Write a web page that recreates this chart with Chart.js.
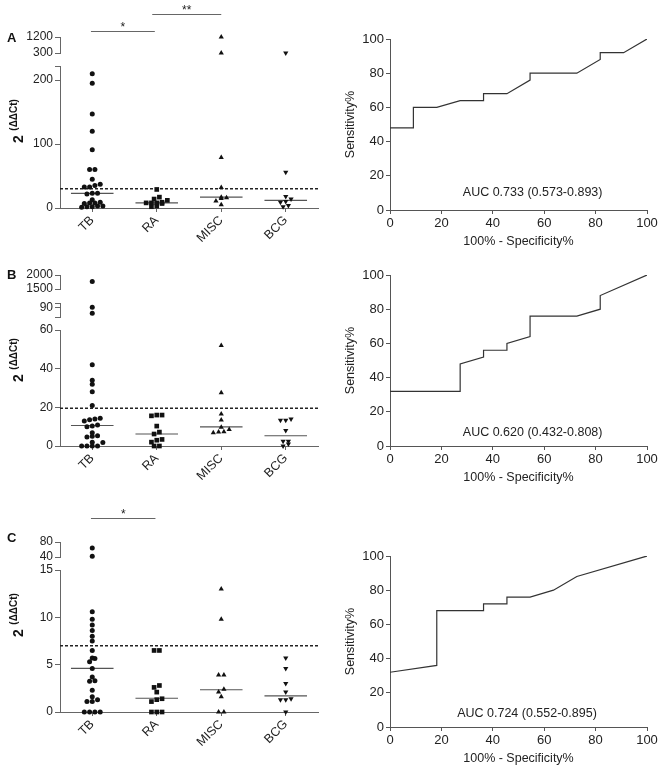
<!DOCTYPE html>
<html lang="en">
<head>
<meta charset="utf-8">
<title>2(ΔΔCt) y curvas ROC</title>
<script src="https://cdn.jsdelivr.net/npm/chart.js@4.4.1/dist/chart.umd.min.js"></script>
<style>
  body { margin: 0; background: #fff; }
  #lienzo { position: relative; width: 661px; height: 767px; overflow: hidden; font-family: "Liberation Sans", Arial, sans-serif; color: #111; }
  .panel { position: absolute; }
  .letra { position: absolute; font-weight: bold; font-size: 13px; }
  .titulo-y { position: absolute; width: 80px; height: 16px; line-height: 16px; text-align: center; transform: rotate(-90deg); white-space: nowrap; }
  .titulo-y b { font-size: 14px; }
  .titulo-y sup { font-size: 10px; font-weight: bold; }
</style>
</head>
<body>
<div id="lienzo">
  <div class="panel" style="left:0;top:0;width:335px;height:250px"><canvas id="puntosA"></canvas></div>
  <div class="panel" style="left:0;top:250px;width:335px;height:236px"><canvas id="puntosB"></canvas></div>
  <div class="panel" style="left:0;top:486px;width:335px;height:281px"><canvas id="puntosC"></canvas></div>
  <div class="panel" style="left:340px;top:0;width:321px;height:250px"><canvas id="rocA"></canvas></div>
  <div class="panel" style="left:340px;top:250px;width:321px;height:236px"><canvas id="rocB"></canvas></div>
  <div class="panel" style="left:340px;top:486px;width:321px;height:281px"><canvas id="rocC"></canvas></div>
  <div class="letra" style="left:7px;top:30px">A</div>
  <div class="letra" style="left:7px;top:267px">B</div>
  <div class="letra" style="left:7px;top:530px">C</div>
  <div class="titulo-y" style="left:-26px;top:113px"><b>2</b> <sup>(ΔΔCt)</sup></div>
  <div class="titulo-y" style="left:-26px;top:352px"><b>2</b> <sup>(ΔΔCt)</sup></div>
  <div class="titulo-y" style="left:-26px;top:607px"><b>2</b> <sup>(ΔΔCt)</sup></div>
</div>
<script>
// ****************************** DATOS *******************************
const categorias = ["TB", "RA", "MISC", "BCG"];

// Panel A
const tbA = [210, 195, 147, 120, 91, 60, 60, 45, 37, 35, 33, 33, 23, 23, 22, 13, 9, 8, 8, 7, 3, 3, 2, 2, 1];
const raA = [29, 17, 14, 12, 9, 8, 8, 8, 7, 3, 2];
const miscA = [1200, 300, 79, 32, 17, 16, 15, 11, 5];
const bcgA = [300, 56, 18, 14, 10, 9, 4, 2];
const medianasA = [23, 8, 17, 12];
const corteA = 30;
const ticksA0 = [0, 100, 200];
const ticksA1 = [300, 1200];

// Panel B
const tbB = [1767, 91, 78, 42, 34, 32, 28, 21, 14.3, 14, 13.6, 12.9, 10.8, 10.3, 9.9, 6.8, 5.3, 5, 4.7, 2, 1.8, 0, 0, 0, 0];
const raB = [16, 16, 15.6, 10.3, 7.2, 6.2, 3.4, 3, 2, 0, 0];
const miscB = [52, 27.5, 16.5, 13.4, 9.7, 8.5, 7.4, 7.3, 6.9];
const bcgB = [14, 13.3, 13.3, 8, 2.5, 2.5, 1, 0];
const medianasB = [10.6, 6.2, 9.9, 5.3];
const corteB = 19.5;
const ticksB0 = [0, 20, 40, 60];
const ticksB1 = [90];
const ticksB2 = [1500, 2000];

// Panel C
const tbC = [64, 42, 10.6, 9.8, 9.2, 8.6, 8, 7.5, 6.5, 5.7, 5.65, 5.3, 4.6, 3.7, 3.3, 3.25, 2.3, 1.6, 1.3, 1.1, 1.1, 0, 0, 0, 0];
const raC = [6.5, 6.5, 2.8, 2.6, 2.1, 1.4, 1.3, 1.1, 0, 0, 0];
const miscC = [13, 9.8, 3.9, 3.9, 2.4, 2.1, 1.6, 0, 0];
const bcgC = [5.7, 4.6, 3, 2.1, 1.4, 1.3, 1.3, 0];
const medianasC = [4.6, 1.45, 2.35, 1.7];
const corteC = 7;
const ticksC0 = [0, 5, 10, 15];
const ticksC1 = [40, 80];

// Curvas ROC (100% - especificidad, sensibilidad)
const rocTicks = [0, 20, 40, 60, 80, 100];
const rocAx = [0, 9.1, 9.1, 18.2, 27.3, 36.4, 36.4, 45.5, 54.5, 54.5, 72.7, 81.8, 81.8, 90.9, 100];
const rocAy = [48, 48, 60, 60, 64, 64, 68, 68, 76, 80, 80, 88, 92, 92, 100];
const rocBx = [0, 27.3, 27.3, 36.4, 36.4, 45.5, 45.5, 54.5, 54.5, 72.7, 81.8, 81.8, 100];
const rocBy = [32, 32, 48, 52, 56, 56, 60, 64, 76, 76, 80, 88, 100];
const rocCx = [0, 18.2, 18.2, 36.4, 36.4, 45.5, 45.5, 54.5, 63.6, 72.7, 100];
const rocCy = [32, 36, 68, 68, 72, 72, 76, 76, 80, 88, 100];

// ****************************** CONFIGURACIÓN ***********************
Chart.defaults.font.family = "'Liberation Sans', Arial, sans-serif";
Chart.defaults.color = "#222";

// Tramos del eje Y cortado (de abajo a arriba), alto en px
const tramosA = [
  { min: 0, max: 222, labels: ticksA0, px: 142 },
  { gap: 13 },
  { min: 300, max: 1200, labels: ticksA1, px: 16 },
];
const tramosB = [
  { min: 0, max: 60, labels: ticksB0, px: 116 },
  { gap: 13 },
  { min: 70, max: 100, labels: ticksB1, px: 14 },
  { gap: 14 },
  { min: 1500, max: 2000, labels: ticksB2, px: 14 },
];
const tramosC = [
  { min: 0, max: 15, labels: ticksC0, px: 142 },
  { gap: 13 },
  { min: 40, max: 80, labels: ticksC1, px: 15 },
];

const estilos = [
  { pointStyle: "circle", pointRadius: 2.5, rot: 0 },
  { pointStyle: "rect", pointRadius: 3.3, rot: 0 },
  { pointStyle: "triangle", pointRadius: 3, rot: 0 },
  { pointStyle: "triangle", pointRadius: 3, rot: 180 },
];

/**
 * Altura aproximada en px (desde abajo) de un valor en el eje cortado
 */
function alturaPx(tramos, v) {
  let base = 0;
  for (const t of tramos) {
    if (t.gap) { base += t.gap; continue; }
    if (v <= t.max) return base + (Math.max(v, t.min) - t.min) / (t.max - t.min) * t.px;
    base += t.px;
  }
  return base;
}

/**
 * Reparte horizontalmente los puntos que se solapan (enjambre sencillo)
 */
function enjambre(valores, gi, tramos, pxPorCat) {
  const pts = valores.map((v) => ({ v, py: alturaPx(tramos, v) })).sort((a, b) => a.py - b.py);
  const out = [];
  let i = 0;
  while (i < pts.length) {
    let j = i;
    while (j + 1 < pts.length && pts[j + 1].py - pts[i].py < 3.5) j++;
    const n = j - i + 1;
    for (let k = 0; k < n; k++) {
      out.push({ x: gi + ((k - (n - 1) / 2) * 5.3) / pxPorCat, y: pts[i + k].v });
    }
    i = j + 1;
  }
  return out;
}

function pluginBarras(barras) {
  return {
    id: "barras",
    afterDraw(chart) {
      const ctx = chart.ctx;
      const xs = chart.scales.x;
      const top = chart.chartArea.top;
      ctx.save();
      ctx.strokeStyle = "#666";
      ctx.lineWidth = 1;
      ctx.fillStyle = "#222";
      ctx.font = "12px 'Liberation Sans', Arial, sans-serif";
      ctx.textAlign = "center";
      ctx.textBaseline = "alphabetic";
      barras.forEach((b) => {
        const x1 = xs.getPixelForValue(b.desde);
        const x2 = xs.getPixelForValue(b.hasta);
        const y = Math.round(top - b.dy) + 0.5;
        ctx.beginPath();
        ctx.moveTo(x1, y);
        ctx.lineTo(x2, y);
        ctx.stroke();
        ctx.fillText(b.texto, (x1 + x2) / 2, y - 1);
      });
      ctx.restore();
    },
  };
}

// ****************************** GRÁFICO DE PUNTOS *******************
function graficoPuntos(id, grupos, medianas, corte, tramos, barras, padTop, altoX) {
  const anchoTotal = 335, anchoY = 60, padDer = 17;
  const pxPorCat = (anchoTotal - anchoY - padDer) / 4;

  const escalas = {
    x: {
      type: "linear",
      min: -0.5,
      max: 3.5,
      afterBuildTicks: (s) => { s.ticks = categorias.map((c, i) => ({ value: i })); },
      afterFit: (s) => { s.height = altoX; },
      ticks: {
        callback: (v) => categorias[v],
        minRotation: 45,
        maxRotation: 45,
        autoSkip: false,
        font: { size: 12.5 },
        padding: 1,
      },
      grid: { drawOnChartArea: false, tickLength: 4, color: "#666" },
      border: { color: "#666", width: 1 },
    },
  };

  tramos.forEach((t, i) => {
    const clave = "y" + i;
    if (t.gap) {
      escalas[clave] = { type: "linear", position: "left", display: false, stack: "eje", stackWeight: t.gap, weight: i };
      return;
    }
    escalas[clave] = {
      type: "linear",
      position: "left",
      stack: "eje",
      stackWeight: t.px,
      weight: i,
      min: t.min,
      max: t.max,
      afterBuildTicks: (s) => {
        s.ticks = [...new Set([t.min, ...t.labels, t.max])].map((v) => ({ value: v }));
      },
      afterFit: (s) => { s.width = anchoY; },
      ticks: {
        callback: (v) => (t.labels.includes(v) ? String(v) : ""),
        autoSkip: false,
        font: { size: 12 },
        padding: 2,
      },
      grid: { drawOnChartArea: false, tickLength: 5, color: "#666" },
      border: { color: "#666", width: 1 },
    };
  });

  const datasets = [];
  grupos.forEach((valores, gi) => {
    const pts = enjambre(valores, gi, tramos, pxPorCat);
    const est = estilos[gi];
    tramos.forEach((t, ti) => {
      if (t.gap) return;
      const data = pts.filter((p) => p.y >= t.min && p.y <= t.max);
      if (!data.length) return;
      datasets.push({
        data,
        yAxisID: "y" + ti,
        pointStyle: est.pointStyle,
        pointRadius: est.pointRadius,
        pointRotation: est.rot,
        backgroundColor: "#111",
        borderColor: "#111",
        borderWidth: 0,
        clip: false,
      });
    });
    // Línea de la mediana
    datasets.push({
      data: [{ x: gi - 0.33, y: medianas[gi] }, { x: gi + 0.33, y: medianas[gi] }],
      yAxisID: "y0",
      showLine: true,
      borderColor: "#555",
      borderWidth: 1.2,
      pointRadius: 0,
    });
  });

  // Línea de corte discontinua
  datasets.push({
    data: [{ x: -0.5, y: corte }, { x: 3.5, y: corte }],
    yAxisID: "y0",
    showLine: true,
    borderColor: "#222",
    borderWidth: 1.4,
    borderDash: [3, 2],
    pointRadius: 0,
  });

  new Chart(document.getElementById(id), {
    type: "scatter",
    data: { datasets },
    options: {
      responsive: true,
      maintainAspectRatio: false,
      animation: false,
      layout: { padding: { top: padTop, right: padDer, left: 0, bottom: 0 } },
      plugins: { legend: { display: false }, tooltip: { enabled: false } },
      scales: escalas,
    },
    plugins: [pluginBarras(barras)],
  });
}

// ****************************** CURVA ROC ***************************
function graficoRoc(id, xs, ys, auc, posAuc, padTop) {
  const datos = xs.map((x, i) => ({ x, y: ys[i] }));
  const textoAuc = {
    id: "textoAuc",
    afterDatasetsDraw(chart) {
      const ctx = chart.ctx;
      ctx.save();
      ctx.fillStyle = "#222";
      ctx.font = "12.5px 'Liberation Sans', Arial, sans-serif";
      ctx.textAlign = "center";
      ctx.textBaseline = "middle";
      ctx.fillText(auc, chart.scales.x.getPixelForValue(posAuc[0]), chart.scales.y.getPixelForValue(posAuc[1]));
      ctx.restore();
    },
  };
  const ejeComun = {
    type: "linear",
    min: 0,
    max: 100,
    afterBuildTicks: (s) => { s.ticks = rocTicks.map((v) => ({ value: v })); },
    ticks: { font: { size: 13 }, padding: 2, maxRotation: 0, autoSkip: false },
    grid: { drawOnChartArea: false, tickLength: 4, color: "#555" },
    border: { color: "#555", width: 1 },
  };
  new Chart(document.getElementById(id), {
    type: "scatter",
    data: {
      datasets: [{
        data: datos,
        showLine: true,
        borderColor: "#333",
        borderWidth: 1.2,
        pointRadius: 0,
        fill: false,
      }],
    },
    options: {
      responsive: true,
      maintainAspectRatio: false,
      animation: false,
      layout: { padding: { top: padTop, right: 14, left: 0, bottom: 0 } },
      plugins: { legend: { display: false }, tooltip: { enabled: false } },
      scales: {
        x: {
          ...ejeComun,
          afterFit: (s) => { s.height = 40; },
          title: { display: true, text: "100% - Specificity%", font: { size: 12.5 }, padding: { top: 0, bottom: 1 } },
        },
        y: {
          ...ejeComun,
          afterFit: (s) => { s.width = 50; },
          title: { display: true, text: "Sensitivity%", font: { size: 12.5 }, padding: { top: 3, bottom: 0 } },
        },
      },
    },
    plugins: [textoAuc],
  });
}

// ****************************** INICIO ******************************
graficoPuntos("puntosA", [tbA, raA, miscA, bcgA], medianasA, corteA, tramosA,
  [{ desde: -0.02, hasta: 0.97, dy: 6, texto: "*" }, { desde: 0.93, hasta: 2, dy: 23, texto: "**" }], 37, 42);
graficoPuntos("puntosB", [tbB, raB, miscB, bcgB], medianasB, corteB, tramosB, [], 25, 40);
graficoPuntos("puntosC", [tbC, raC, miscC, bcgC], medianasC, corteC, tramosC,
  [{ desde: -0.02, hasta: 0.98, dy: 24, texto: "*" }], 56, 55);

graficoRoc("rocA", rocAx, rocAy, "AUC 0.733 (0.573-0.893)", [55.5, 10], 39);
graficoRoc("rocB", rocBx, rocBy, "AUC 0.620 (0.432-0.808)", [55.5, 8], 25);
graficoRoc("rocC", rocCx, rocCy, "AUC 0.724 (0.552-0.895)", [53.3, 8], 70);
</script>
</body>
</html>
